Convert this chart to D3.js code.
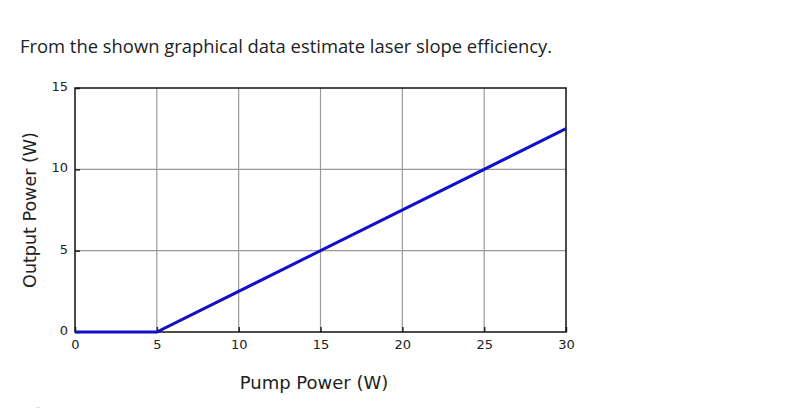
<!DOCTYPE html>
<html><head><meta charset="utf-8">
<script src="https://cdn.jsdelivr.net/npm/d3@7"></script>
<style>body{margin:0;background:#fff;}svg{display:block;}</style>
</head><body>
<svg id="c" width="800" height="408"></svg>
<script>
const pumpPower = [0, 5, 30];
const outputPower = [0, 0, 12.5];
const xTicks = [0, 5, 10, 15, 20, 25, 30];
const yTicks = [0, 5, 10, 15];
const titleText = "From the shown graphical data estimate laser slope efficiency.";
const xLabel = "Pump Power (W)";
const yLabel = "Output Power (W)";

const svg = d3.select("#c");
const L = 75, R = 566, T = 88, B = 332;
const x = d3.scaleLinear().domain([0, 30]).range([L, R]);
const y = d3.scaleLinear().domain([0, 15]).range([B, T]);

svg.append("text").attr("x", 20).attr("y", 53)
  .attr("font-family", "Open Sans").attr("font-size", 18.4).attr("fill", "#222")
  .text(titleText);

// grid
const g = svg.append("g");
g.selectAll(".gx").data(xTicks.slice(1, -1)).join("line")
  .attr("x1", d => x(d)).attr("x2", d => x(d)).attr("y1", T).attr("y2", B)
  .attr("stroke", "#999").attr("stroke-width", 1.2);
g.selectAll(".gy").data(yTicks.slice(1, -1)).join("line")
  .attr("y1", d => y(d)).attr("y2", d => y(d)).attr("x1", L).attr("x2", R)
  .attr("stroke", "#999").attr("stroke-width", 1.2);

// axes with inward ticks
const xa = svg.append("g").attr("transform", `translate(0,${B})`)
  .call(d3.axisBottom(x).tickValues(xTicks).tickSizeInner(-5).tickSizeOuter(0).tickPadding(8));
const ya = svg.append("g").attr("transform", `translate(${L},0)`)
  .call(d3.axisLeft(y).tickValues(yTicks).tickSizeInner(-5).tickSizeOuter(0).tickPadding(7));
[xa, ya].forEach(a => {
  a.select(".domain").remove();
  a.selectAll(".tick line").attr("stroke", "#222").attr("stroke-width", 1.5);
  a.selectAll("text").attr("font-family", "DejaVu Sans").attr("font-size", 13).attr("fill", "#222");
});
ya.selectAll("text").attr("dy", "0.2em");

// frame
svg.append("rect").attr("x", L).attr("y", T).attr("width", R - L).attr("height", B - T)
  .attr("fill", "none").attr("stroke", "#111").attr("stroke-width", 1.5);

// data line
const pts = pumpPower.map((p, i) => [p, outputPower[i]]);
svg.append("path").datum(pts)
  .attr("d", d3.line().x(d => x(d[0])).y(d => y(d[1])))
  .attr("fill", "none").attr("stroke", "#1010c8").attr("stroke-width", 3);

svg.append("text").attr("x", 314).attr("y", 389).attr("text-anchor", "middle")
  .attr("font-family", "DejaVu Sans").attr("font-size", 18).attr("fill", "#222").text(xLabel);
svg.append("text").attr("transform", "translate(36,210) rotate(-90)").attr("text-anchor", "middle")
  .attr("font-family", "DejaVu Sans").attr("font-size", 17.5).attr("fill", "#222").text(yLabel);

svg.append("circle").attr("cx", 38).attr("cy", 418).attr("r", 10)
  .attr("fill", "none").attr("stroke", "#aaa").attr("stroke-width", 1);
</script>
</body></html>
